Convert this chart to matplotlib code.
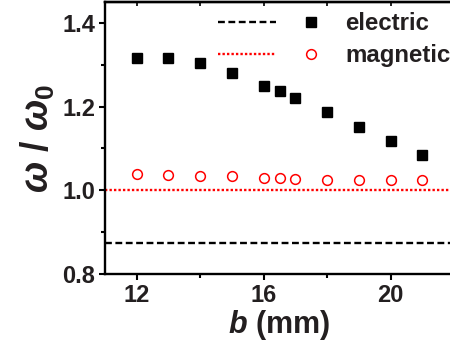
import matplotlib
matplotlib.use("Agg")
import matplotlib.pyplot as plt
from matplotlib.lines import Line2D
from matplotlib.legend_handler import HandlerTuple
from matplotlib.ticker import MultipleLocator

plt.rcParams['font.family'] = ['Liberation Sans', 'DejaVu Sans']
plt.rcParams['font.weight'] = 'bold'
plt.rcParams['mathtext.fontset'] = 'custom'
plt.rcParams['mathtext.it'] = 'Liberation Sans:italic:bold'
plt.rcParams['mathtext.rm'] = 'Liberation Sans:bold'
plt.rcParams['mathtext.bf'] = 'Liberation Sans:bold'

b_mm = [12, 13, 14, 15, 16, 16.5, 17, 18, 19, 20, 21]
electric = [1.315, 1.317, 1.304, 1.280, 1.250, 1.237, 1.220, 1.187, 1.152, 1.119, 1.084]
magnetic = [1.038, 1.0375, 1.035, 1.033, 1.030, 1.030, 1.028, 1.025, 1.025, 1.024, 1.025]
electric_ref = 0.873
magnetic_ref = 1.0
xticks = [12, 16, 20]
yticks = [0.8, 1.0, 1.2, 1.4]

TXT = '#231f20'

fig = plt.figure(figsize=(4.5, 3.49), dpi=100)
ax = fig.add_axes([105/450, 1 - 274/349, (454 - 105)/450, (274 - 2)/349])

ax.axhline(electric_ref, color='black', lw=1.7, ls=(0, (2.9, 1.5)))
ax.axhline(magnetic_ref, color='#ff0000', lw=1.7, ls=(0, (1, 0.9)))
ax.plot(b_mm, electric, ls='none', marker='s', ms=6.7, color='black')
ax.plot(b_mm, magnetic, ls='none', marker='o', ms=7, mfc='none', mec='#ff0000', mew=1.1)

ax.set_xlim(11, 22)
ax.set_ylim(0.8, 1.45)
ax.set_xticks(xticks)
ax.set_yticks(yticks)
ax.xaxis.set_minor_locator(MultipleLocator(2))
ax.yaxis.set_minor_locator(MultipleLocator(0.1))
ax.set_xticklabels([str(v) for v in xticks])
ax.set_yticklabels(['%.1f' % v for v in yticks])

for s in ax.spines.values():
    s.set_linewidth(1.7)
ax.spines['right'].set_visible(False)

ax.tick_params(which='both', direction='out', width=1.5, labelsize=17,
               labelcolor=TXT, top=False, right=False)
ax.tick_params(which='major', length=4, pad=3)
ax.tick_params(which='minor', length=3)

sec = ax.secondary_xaxis('top')
sec.set_xticks([12, 14, 16, 18, 20])
sec.tick_params(direction='in', length=3, width=1.2, labeltop=False)
sec.spines['top'].set_linewidth(1.7)

ax.set_xlabel(r'$b$ (mm)', fontsize=22, fontweight='bold', color=TXT, labelpad=1)
ax.set_ylabel(r'$\omega$ / $\omega_0$', fontsize=27, fontweight='bold', color=TXT, labelpad=4)

h1 = (Line2D([], [], color='black', lw=1.7, ls=(0, (2.9, 1.5))),
      Line2D([], [], ls='none', marker='s', ms=6.7, color='black'))
h2 = (Line2D([], [], color='#ff0000', lw=1.7, ls=(0, (1, 0.9))),
      Line2D([], [], ls='none', marker='o', ms=7, mfc='none', mec='#ff0000', mew=1.1))
leg = ax.legend([h1, h2], ['electric', 'magnetic'],
                handler_map={tuple: HandlerTuple(ndivide=None, pad=0.233)},
                loc='upper left', bbox_to_anchor=(218/450, 1 - 12/349),
                bbox_transform=fig.transFigure, frameon=False,
                borderpad=0, borderaxespad=0, handlelength=5.06,
                handletextpad=0.233, labelspacing=0.38,
                prop={'size': 17.3, 'weight': 'bold'})
for t in leg.get_texts():
    t.set_color(TXT)

fig.savefig('out.png', dpi=100)
